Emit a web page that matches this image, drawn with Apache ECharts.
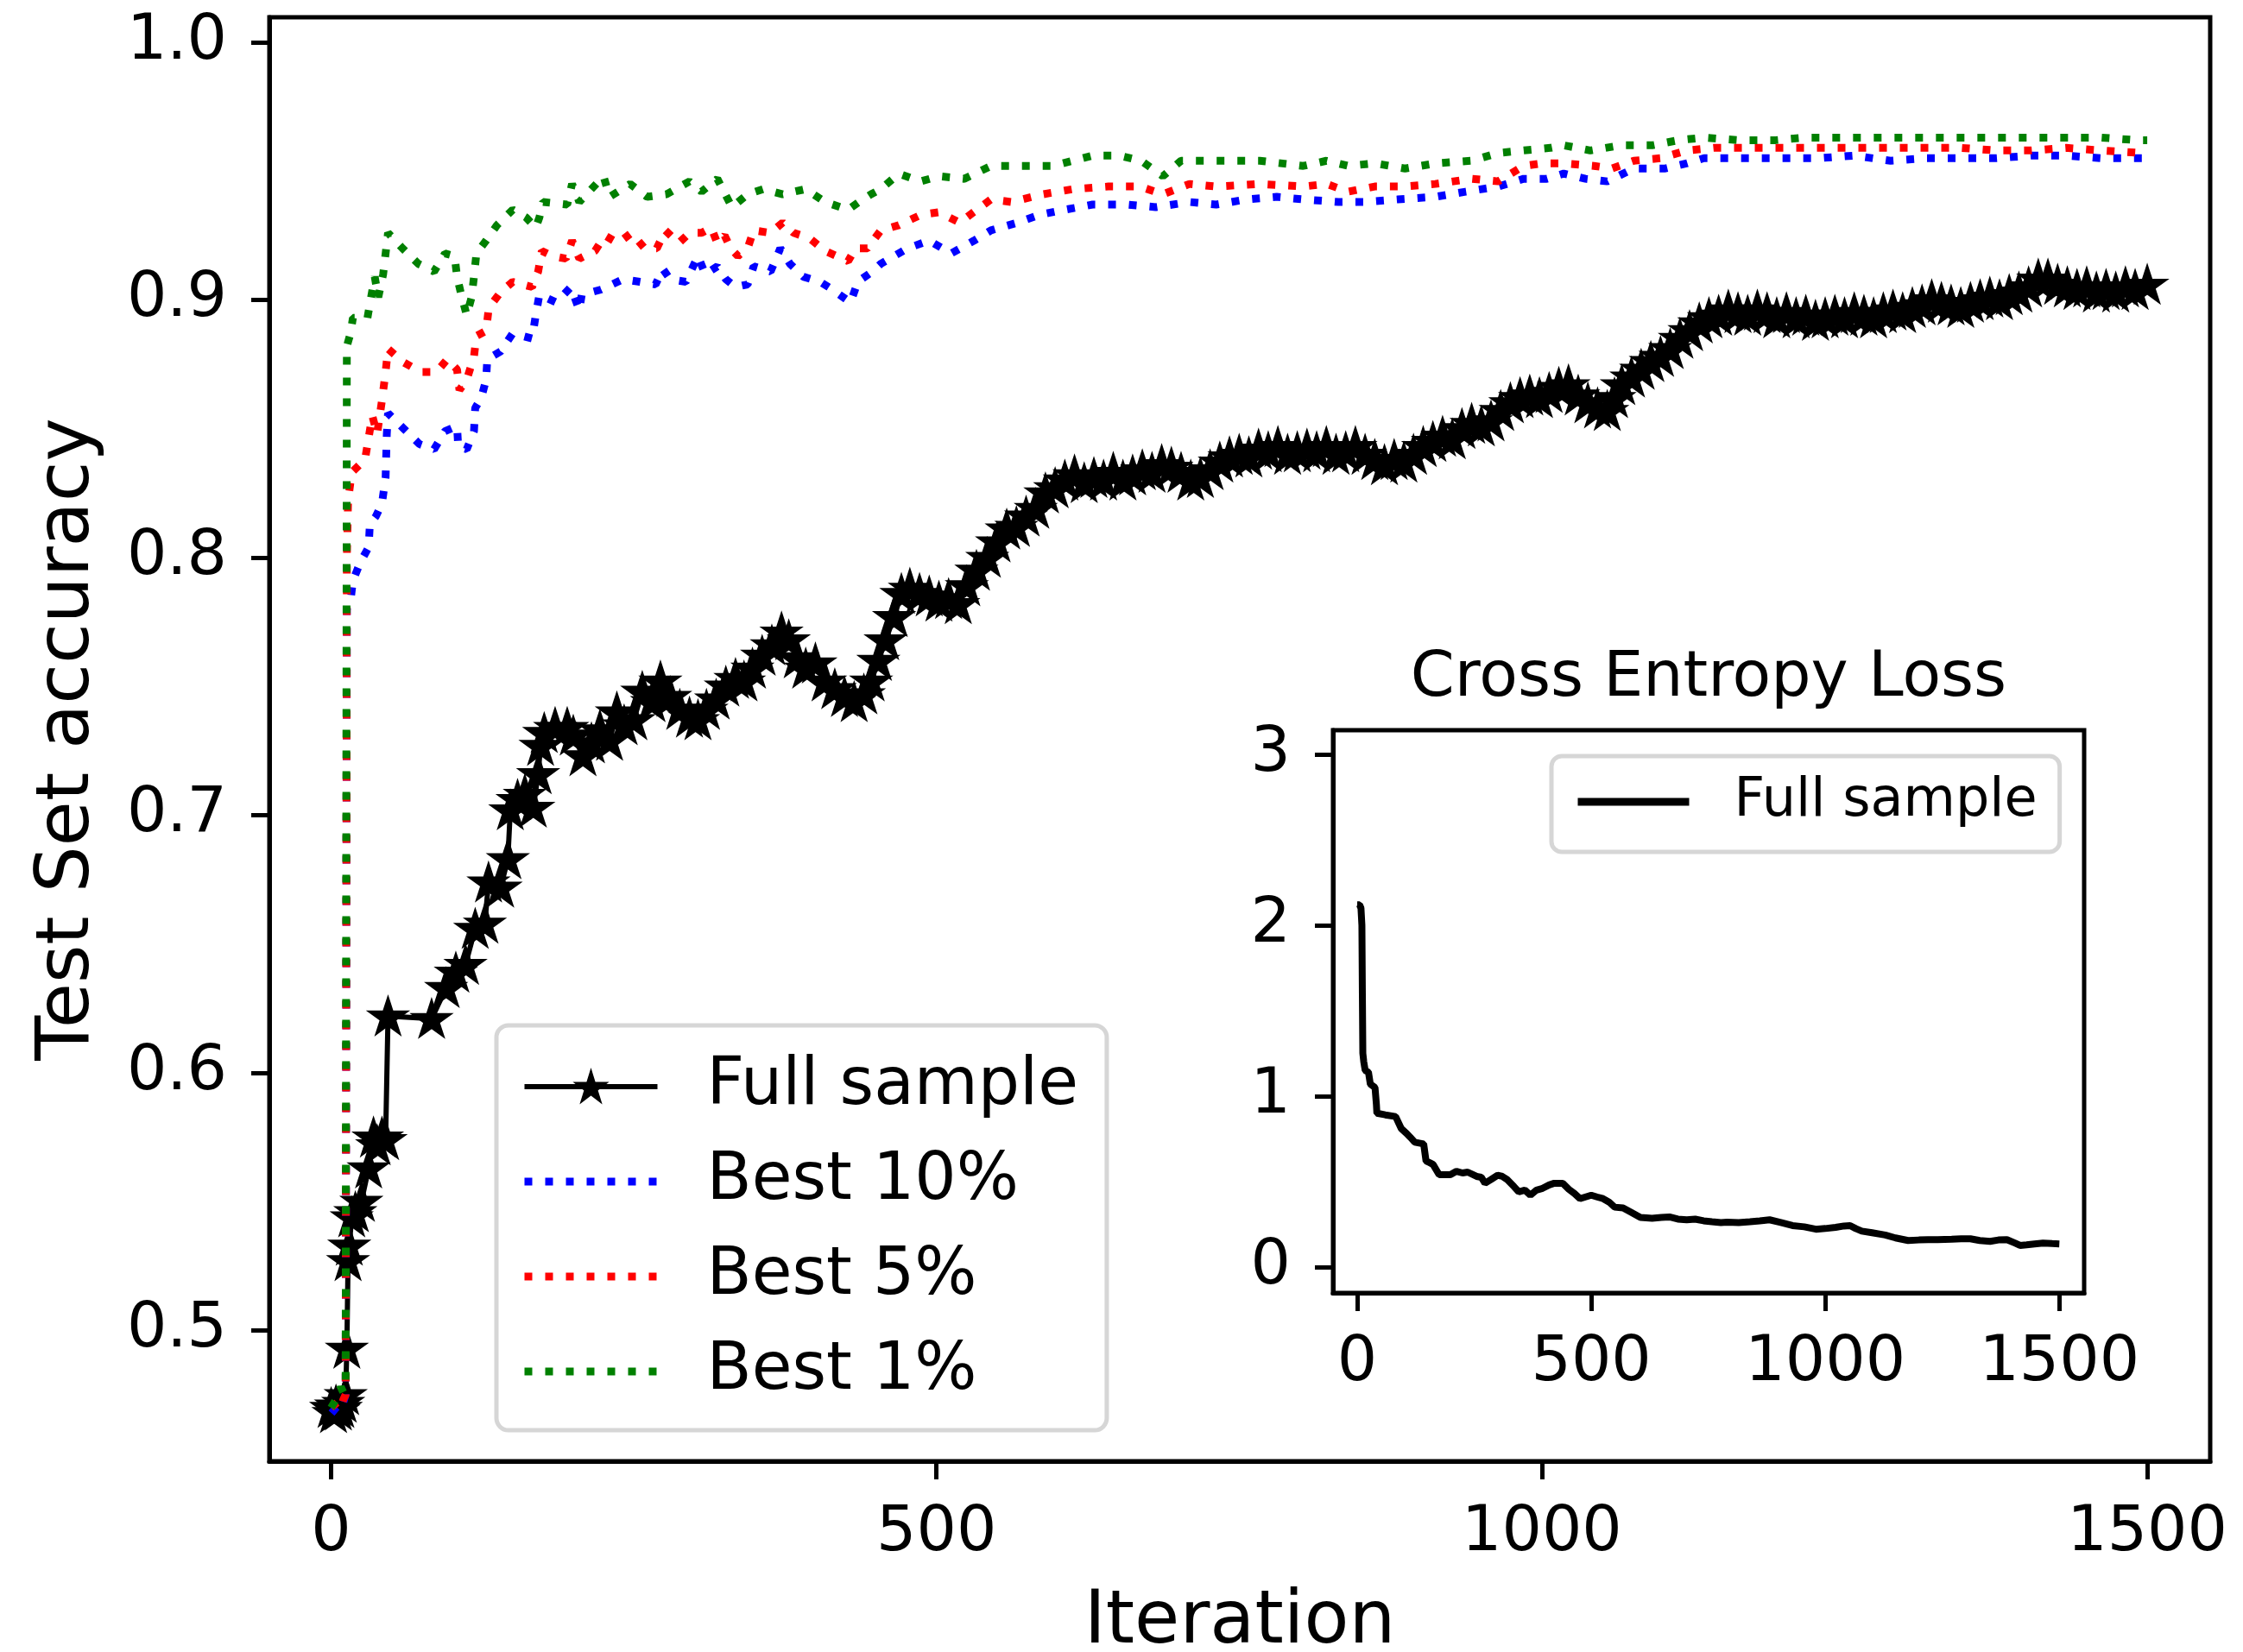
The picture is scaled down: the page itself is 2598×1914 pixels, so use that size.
<!DOCTYPE html>
<html><head><meta charset="utf-8">
<script src="https://cdn.jsdelivr.net/npm/echarts@6/dist/echarts.min.js"></script>
<style>html,body{margin:0;padding:0;background:#fff}#c{width:2598px;height:1914px}</style>
</head><body><div id="c"></div>
<script>
const xTickValues = [0, 500, 1000, 1500];
const accTickValues = [0.5, 0.6, 0.7, 0.8, 0.9, 1.0];
const lossTickValues = [0, 1, 2, 3];

const fullIter = [0,2,4,6,8,10,12,13,14,15,17,20,25,31,35,38,42,45,47,83,95,103,111,119,127,130,140,146,148,154,160,167,171,173,176,185,195,
200,208,215,222,230,236,242,250,257,265,272,280,288,296,303,310,318,326,334,341,348,356,364,372,378,385,392,400,408,416,424,432,440,446,452,458,465,471,478,486,494,502,510,518,525,533,542,550,558,566,574,582,590,598,606,614,622,630,638,646,654,662,670,678,686,694,702,710,718,726,734,742,750,758,766,774,782,790,798,806,814,822,830,838,846,854,862,870,878,886,894,902,910,918,926,934,942,950,958,966,974,982,990,998,1006,1014,1022,1030,1038,1046,1054,1060,1066,1074,1082,1090,1098,1106,1114,1122,1130,1138,1146,1154,1162,1170,1178,1186,1194,1202,1210,1218,1226,1234,1242,1250,1258,1266,1274,1282,1290,1298,1306,1314,1322,1330,1338,1346,1354,1362,1370,1378,1386,1394,1402,1410,1418,1426,1434,1442,1450,1458,1466,1474,1482,1490,1500];
const fullAcc = [0.470,0.468,0.471,0.469,0.470,0.472,0.475,0.493,0.527,0.533,0.544,0.546,0.550,0.563,0.575,0.572,0.575,0.574,0.622,0.621,0.633,0.639,0.642,0.656,0.658,0.674,0.672,0.683,0.702,0.706,0.708,0.703,0.716,0.727,0.732,0.734,0.734,
0.731,0.723,0.728,0.733,0.729,0.740,0.735,0.737,0.748,0.744,0.752,0.746,0.741,0.738,0.737,0.741,0.745,0.750,0.753,0.752,0.757,0.762,0.766,0.771,0.768,0.761,0.757,0.759,0.752,0.749,0.746,0.744,0.747,0.752,0.760,0.768,0.777,0.786,0.788,0.786,0.785,0.783,0.784,0.782,0.789,0.795,0.800,0.806,0.811,0.812,0.816,0.819,0.825,0.827,0.830,0.832,0.829,0.831,0.830,0.833,0.830,0.832,0.834,0.833,0.836,0.835,0.833,0.830,0.831,0.834,0.837,0.839,0.840,0.839,0.842,0.841,0.843,0.840,0.841,0.842,0.841,0.843,0.840,0.841,0.843,0.840,0.838,0.836,0.838,0.837,0.840,0.843,0.845,0.847,0.846,0.850,0.852,0.851,0.853,0.857,0.860,0.862,0.863,0.862,0.864,0.866,0.867,0.863,0.860,0.858,0.857,0.862,0.867,0.870,0.873,0.876,0.878,0.881,0.885,0.888,0.891,0.893,0.894,0.896,0.895,0.894,0.896,0.895,0.893,0.895,0.893,0.894,0.892,0.893,0.894,0.893,0.895,0.894,0.893,0.895,0.896,0.895,0.897,0.898,0.900,0.899,0.898,0.897,0.899,0.900,0.901,0.900,0.902,0.903,0.905,0.908,0.908,0.906,0.905,0.904,0.905,0.903,0.904,0.903,0.905,0.904,0.906];

const best10Iter = [0,5,8,10,12,13,16,18,24,31,32,37,42,45,46,47,60,73,85,94,104,105,112,118,119,124,128,129,140,150,166,169,172,186,198,205,207,223,241,255,268,274,280,293,303,309,319,326,334,344,349,363,371,379,390,404,414,429,435,447,454,476,494,512,531,545,567,585,606,629,657,681,709,731,756,781,803,832,853,881,912,937,964,985,1004,1018,1036,1054,1076,1102,1120,1134,1163,1193,1229,1258,1288,1317,1346,1375,1404,1433,1462,1500];
const best10Acc = [0.470,0.468,0.470,0.472,0.475,0.780,0.783,0.791,0.798,0.804,0.813,0.816,0.821,0.831,0.848,0.856,0.850,0.844,0.842,0.849,0.851,0.843,0.842,0.849,0.858,0.862,0.869,0.877,0.880,0.887,0.885,0.894,0.902,0.899,0.905,0.896,0.902,0.904,0.908,0.907,0.906,0.912,0.908,0.907,0.917,0.910,0.913,0.908,0.905,0.906,0.913,0.911,0.920,0.914,0.909,0.907,0.904,0.899,0.907,0.911,0.914,0.920,0.923,0.918,0.923,0.927,0.930,0.933,0.935,0.937,0.937,0.936,0.938,0.937,0.939,0.940,0.939,0.938,0.938,0.939,0.940,0.942,0.944,0.947,0.947,0.949,0.947,0.946,0.951,0.951,0.953,0.955,0.955,0.955,0.955,0.956,0.954,0.955,0.955,0.955,0.956,0.956,0.955,0.955];

const best5Iter = [0,5,8,10,12,13,14,17,28,34,38,42,45,47,59,74,87,96,104,106,112,118,120,128,130,132,140,150,166,171,174,183,194,199,205,218,226,237,248,259,269,276,287,296,306,314,319,325,330,336,344,349,363,373,382,395,408,427,433,443,454,469,487,502,519,545,562,588,613,642,668,687,709,731,767,803,822,840,862,887,912,942,964,985,1000,1018,1043,1058,1076,1098,1120,1142,1171,1200,1229,1258,1288,1317,1346,1375,1404,1433,1462,1495,1500];
const best5Acc = [0.470,0.472,0.470,0.473,0.475,0.800,0.822,0.833,0.838,0.855,0.848,0.861,0.872,0.881,0.876,0.872,0.872,0.877,0.873,0.865,0.869,0.878,0.886,0.888,0.896,0.898,0.903,0.907,0.905,0.911,0.919,0.917,0.916,0.923,0.916,0.919,0.925,0.922,0.926,0.920,0.920,0.927,0.922,0.926,0.926,0.928,0.922,0.925,0.920,0.917,0.920,0.927,0.926,0.930,0.926,0.924,0.919,0.915,0.920,0.920,0.927,0.929,0.933,0.934,0.930,0.939,0.938,0.941,0.943,0.944,0.944,0.941,0.945,0.944,0.945,0.944,0.945,0.942,0.944,0.944,0.945,0.947,0.946,0.952,0.953,0.953,0.952,0.951,0.954,0.955,0.958,0.959,0.959,0.959,0.959,0.959,0.959,0.959,0.959,0.958,0.958,0.959,0.958,0.957,0.957];

const best1Iter = [0,5,8,10,12,13,16,18,30,36,39,43,45,47,59,72,85,94,102,104,107,112,116,118,120,128,137,150,161,169,172,175,195,199,205,225,230,247,261,277,296,306,319,331,344,357,373,392,408,427,436,446,454,469,487,502,523,545,571,596,629,651,669,687,702,731,767,803,822,840,862,887,912,942,964,985,1007,1018,1040,1065,1091,1113,1134,1163,1193,1218,1236,1266,1291,1316,1345,1375,1404,1433,1462,1491,1500];
const best1Acc = [0.470,0.474,0.478,0.476,0.479,0.882,0.887,0.893,0.893,0.909,0.901,0.910,0.918,0.926,0.920,0.914,0.911,0.918,0.917,0.909,0.903,0.894,0.901,0.909,0.918,0.923,0.929,0.935,0.932,0.928,0.932,0.938,0.937,0.945,0.938,0.948,0.940,0.945,0.940,0.941,0.946,0.942,0.947,0.936,0.941,0.943,0.941,0.943,0.938,0.935,0.938,0.941,0.943,0.949,0.946,0.948,0.947,0.952,0.952,0.952,0.956,0.956,0.954,0.948,0.954,0.954,0.954,0.952,0.954,0.952,0.953,0.951,0.953,0.954,0.957,0.958,0.959,0.960,0.958,0.960,0.960,0.962,0.963,0.962,0.962,0.963,0.963,0.963,0.963,0.963,0.963,0.963,0.963,0.963,0.963,0.962,0.962];

const lossIter = [0,5,8,10,11,12,14,17,24,28,33,38,41,42,60,82,94,106,113,123,142,147,155,162,175,190,199,212,225,236,255,265,273,285,300,310,321,335,345,358,370,383,396,410,421,439,452,464,476,488,500,512,525,538,550,568,585,605,630,650,667,685,704,722,740,758,777,790,815,839,860,881,905,930,955,980,1000,1022,1040,1053,1065,1078,1100,1128,1150,1177,1200,1220,1240,1270,1290,1310,1330,1352,1370,1388,1405,1416,1430,1447,1465,1485,1500];
const lossVal = [2.12,2.12,2.10,2.00,1.60,1.25,1.20,1.15,1.14,1.07,1.06,1.05,0.95,0.90,0.89,0.88,0.81,0.78,0.76,0.73,0.72,0.62,0.61,0.60,0.54,0.54,0.54,0.56,0.55,0.555,0.53,0.525,0.49,0.51,0.537,0.53,0.51,0.47,0.44,0.45,0.42,0.45,0.46,0.48,0.49,0.49,0.455,0.43,0.40,0.41,0.42,0.41,0.40,0.38,0.35,0.345,0.32,0.29,0.285,0.29,0.293,0.28,0.276,0.28,0.27,0.265,0.26,0.262,0.26,0.265,0.27,0.276,0.26,0.242,0.235,0.221,0.225,0.232,0.24,0.242,0.225,0.21,0.20,0.187,0.17,0.155,0.158,0.16,0.16,0.162,0.165,0.165,0.155,0.15,0.158,0.16,0.14,0.126,0.13,0.135,0.14,0.137,0.135];

const zip = (a, b) => a.map((v, i) => [v, b[i]]);
const FONT = 'DejaVu Sans';
const STAR = 'path://M100,0 L122.45,69.1 L195.1,69.1 L136.33,111.8 L158.78,180.9 L100,138.2 L41.22,180.9 L63.67,111.8 L4.9,69.1 L77.55,69.1 Z';
const DOT = [9, 15];

const chart = echarts.init(document.getElementById('c'), null, {renderer: 'canvas'});

const axisLineStyle = {show: true, onZero: false, lineStyle: {color: '#000', width: 5}};
const tickStyle = {show: true, inside: false, length: 21, lineStyle: {color: '#000', width: 5}};
const labelBase = {fontSize: 73, fontFamily: FONT, color: '#000'};

const option = {
  animation: false,
  backgroundColor: '#fff',
  textStyle: {fontFamily: FONT, color: '#000'},
  grid: [
    {left: 312, top: 20, width: 2248, height: 1673, show: true, borderColor: '#000', borderWidth: 5,
     backgroundColor: 'transparent', containLabel: false, outerBoundsMode: 'none'},
    {left: 1544, top: 846, width: 870, height: 652, show: true, borderColor: '#000', borderWidth: 5,
     backgroundColor: '#fff', z: 5, containLabel: false, outerBoundsMode: 'none'}
  ],
  xAxis: [
    {
      type: 'value', gridIndex: 0, min: -51, max: 1552,
      axisLine: axisLineStyle, splitLine: {show: false},
      axisTick: Object.assign({}, tickStyle, {customValues: xTickValues}),
      axisLabel: Object.assign({}, labelBase, {customValues: xTickValues, margin: 48, formatter: v => String(v)}),
      name: 'Iteration', nameLocation: 'middle', nameGap: 145,
      nameTextStyle: {fontSize: 85, fontFamily: FONT, color: '#000'}
    },
    {
      type: 'value', gridIndex: 1, min: -51.7, max: 1553, z: 6,
      axisLine: axisLineStyle, splitLine: {show: false},
      axisTick: Object.assign({}, tickStyle, {customValues: xTickValues}),
      axisLabel: Object.assign({}, labelBase, {customValues: xTickValues, margin: 46, formatter: v => String(v)})
    }
  ],
  yAxis: [
    {
      type: 'value', gridIndex: 0, min: 0.4492, max: 1.0097,
      axisLine: axisLineStyle, splitLine: {show: false},
      axisTick: Object.assign({}, tickStyle, {customValues: accTickValues}),
      axisLabel: Object.assign({}, labelBase, {customValues: accTickValues, margin: 49, padding: [20, 0, 0, 0],
        formatter: v => Number(v).toFixed(1)}),
      name: 'Test Set accuracy', nameLocation: 'middle', nameGap: 190, nameRotate: 90,
      nameTextStyle: {fontSize: 85, fontFamily: FONT, color: '#000'}
    },
    {
      type: 'value', gridIndex: 1, min: -0.152, max: 3.141, z: 6,
      axisLine: axisLineStyle, splitLine: {show: false},
      axisTick: Object.assign({}, tickStyle, {customValues: lossTickValues}),
      axisLabel: Object.assign({}, labelBase, {customValues: lossTickValues, margin: 49, padding: [16, 0, 0, 0],
        formatter: v => String(Math.round(v))})
    }
  ],
  legend: [
    {
      data: [
        {name: 'Full sample', lineStyle: {width: 6, color: '#000', type: 'solid'}, itemStyle: {color: '#000', borderColor: '#000', borderWidth: 4}},
        {name: 'Best 10%', lineStyle: {width: 9, color: '#0000ff', type: DOT, cap: 'butt'}, itemStyle: {opacity: 0}},
        {name: 'Best 5%', lineStyle: {width: 9, color: '#ff0000', type: DOT, cap: 'butt'}, itemStyle: {opacity: 0}},
        {name: 'Best 1%', lineStyle: {width: 9, color: '#008000', type: DOT, cap: 'butt'}, itemStyle: {opacity: 0}}
      ],
      orient: 'vertical', left: 575, top: 1188,
      padding: [33, 33, 30, 28], itemGap: 34,
      itemWidth: 154, itemHeight: 38,
      borderColor: '#d6d6d6', borderWidth: 5, borderRadius: 14,
      backgroundColor: 'rgba(255,255,255,0.8)',
      selectedMode: false,
      textStyle: {fontSize: 76, fontFamily: FONT, color: '#000', padding: [12, 0, 0, 52]}
    },
    {
      data: [{name: 'Full sample ', lineStyle: {width: 9, color: '#000', type: 'solid'}, itemStyle: {opacity: 0}}],
      formatter: n => n.trim(),
      orient: 'vertical', left: 1797, top: 876,
      padding: [22, 26, 27, 26], itemGap: 10,
      itemWidth: 129, itemHeight: 38,
      borderColor: '#d6d6d6', borderWidth: 5, borderRadius: 12,
      backgroundColor: 'rgba(255,255,255,0.8)',
      selectedMode: false, z: 10,
      textStyle: {fontSize: 62, fontFamily: FONT, color: '#000', padding: [10, 0, 0, 47]}
    }
  ],
  graphic: [
    {type: 'text', x: 1979, y: 787, z: 100,
     style: {text: 'Cross Entropy Loss', font: '73px "DejaVu Sans"', fill: '#000', align: 'center', verticalAlign: 'middle'}}
  ],
  series: [
    {
      name: 'Full sample', type: 'line', xAxisIndex: 0, yAxisIndex: 0,
      data: zip(fullIter, fullAcc),
      symbol: STAR, symbolSize: 36, symbolKeepAspect: true, showAllSymbol: true,
      lineStyle: {color: '#000', width: 6},
      itemStyle: {color: '#000', borderColor: '#000', borderWidth: 5},
      z: 2, silent: true
    },
    {
      name: 'Best 10%', type: 'line', xAxisIndex: 0, yAxisIndex: 0,
      data: zip(best10Iter, best10Acc), symbol: 'none', showSymbol: false,
      lineStyle: {color: '#0000ff', width: 9, type: DOT, cap: 'butt'},
      itemStyle: {color: '#0000ff'}, z: 3, silent: true
    },
    {
      name: 'Best 5%', type: 'line', xAxisIndex: 0, yAxisIndex: 0,
      data: zip(best5Iter, best5Acc), symbol: 'none', showSymbol: false,
      lineStyle: {color: '#ff0000', width: 9, type: DOT, cap: 'butt'},
      itemStyle: {color: '#ff0000'}, z: 4, silent: true
    },
    {
      name: 'Best 1%', type: 'line', xAxisIndex: 0, yAxisIndex: 0,
      data: zip(best1Iter, best1Acc), symbol: 'none', showSymbol: false,
      lineStyle: {color: '#008000', width: 9, type: DOT, cap: 'butt'},
      itemStyle: {color: '#008000'}, z: 5, silent: true
    },
    {
      name: 'Full sample ', type: 'line', xAxisIndex: 1, yAxisIndex: 1,
      data: zip(lossIter, lossVal), symbol: 'none', showSymbol: false,
      lineStyle: {color: '#000', width: 8},
      itemStyle: {color: '#000'}, z: 7, silent: true
    }
  ]
};
chart.setOption(option);
</script>
</body></html>
